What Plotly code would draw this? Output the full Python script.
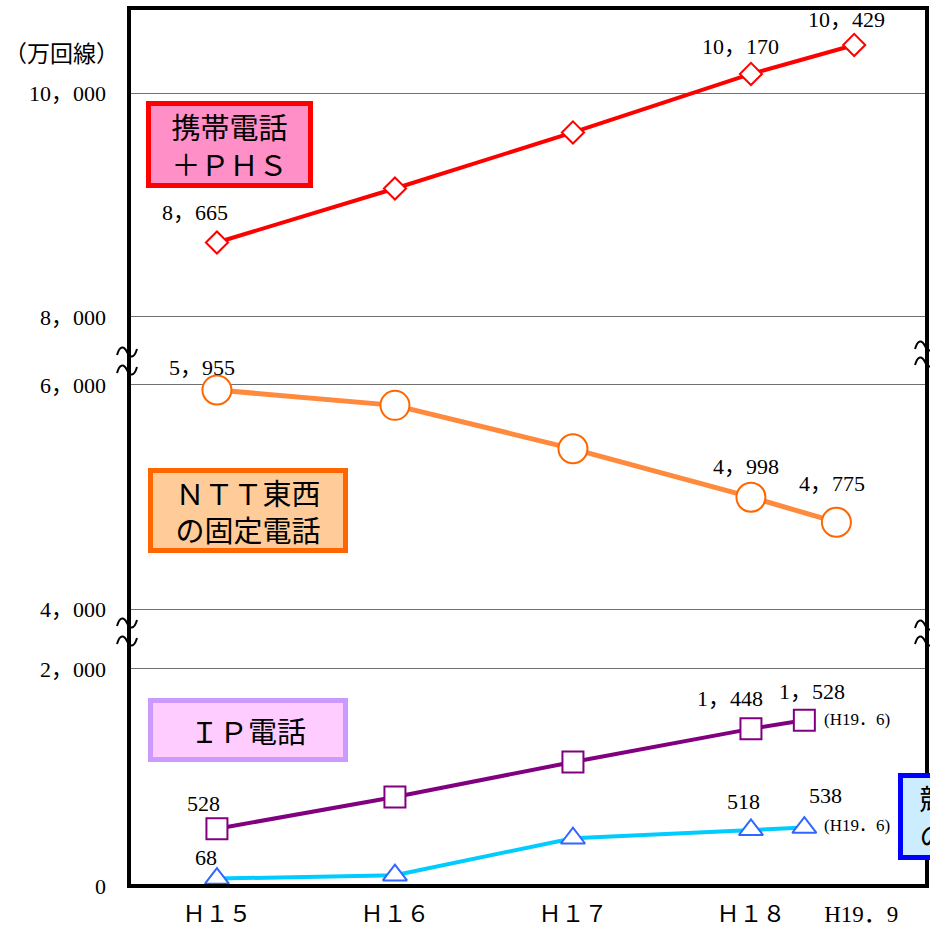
import plotly.graph_objects as go
from plotly.subplots import make_subplots

# ---------------- data ----------------
x_tick_vals = [0, 1, 2, 3, 3.62]
x_tick_text = ["Ｈ１５", "Ｈ１６", "Ｈ１７", "Ｈ１８", "H19．9"]

mobile_x = [0, 1, 2, 3, 3.58]          # H15 .. H18, H19.9
mobile_val = [8665, 9147, 9648, 10170, 10429]

ntt_x = [0, 1, 2, 3, 3.48]             # H15 .. H18, H19.9
ntt_val = [5955, 5818, 5430, 4998, 4775]

ip_x = [0, 1, 2, 3, 3.3]               # H15 .. H18, H19.6
ip_val = [528, 820, 1143, 1448, 1528]

direct_x = [0, 1, 2, 3, 3.3]           # H15 .. H18, H19.6
direct_val = [68, 100, 440, 518, 538]

y_top_ticks = [8000, 10000]
y_top_text = ["8，000", "10，000"]
y_mid_ticks = [4000, 6000]
y_mid_text = ["4，000", "6，000"]
y_bot_ticks = [0, 2000]
y_bot_text = ["0", "2，000"]

unit_label = "（万回線）"
box_mobile = "携帯電話<br>＋ＰＨＳ"
box_ntt = "ＮＴＴ東西<br>の固定電話"
box_ip = "ＩＰ電話"
box_direct = "競争事業者<br>の直収電話"
note_h196 = "(H19．6)"

# ---------------- figure ----------------
W, H = 930, 931
ML, MR, MT, MB = 129, 3, 8, 45
PW = W - ML - MR
PH = H - MT - MB

FONT = "Liberation Serif, Noto Sans CJK JP, serif"
JFONT = "Noto Sans CJK JP, sans-serif"

fig = make_subplots(rows=3, cols=1, shared_xaxes=True, vertical_spacing=0,
                    row_heights=[354, 273, 251])

fig.add_trace(go.Scatter(
    x=mobile_x, y=mobile_val, mode="lines+markers",
    line=dict(color="#FF0000", width=4),
    marker=dict(symbol="diamond", size=17, color="white",
                line=dict(color="#FF0000", width=2)),
    hoverinfo="skip", showlegend=False), row=1, col=1)

fig.add_trace(go.Scatter(
    x=ntt_x, y=ntt_val, mode="lines+markers",
    line=dict(color="#FF8A3D", width=5),
    marker=dict(symbol="circle", size=29, color="white",
                line=dict(color="#FF6600", width=2)),
    hoverinfo="skip", showlegend=False), row=2, col=1)

fig.add_trace(go.Scatter(
    x=ip_x, y=ip_val, mode="lines+markers",
    line=dict(color="#800080", width=4),
    marker=dict(symbol="square", size=21, color="white",
                line=dict(color="#800080", width=2)),
    hoverinfo="skip", showlegend=False), row=3, col=1)

fig.add_trace(go.Scatter(
    x=direct_x, y=direct_val, mode="lines+markers",
    line=dict(color="#00CCFF", width=4),
    marker=dict(symbol="triangle-up", size=21, color="white",
                line=dict(color="#3366FF", width=2)),
    hoverinfo="skip", showlegend=False), row=3, col=1)

def fmt(v):
    return f"{v:,}".replace(",", "，")

# data labels: (xs, ys, index, yref, dx, dy)
labels = [
    (mobile_x, mobile_val, 0, "y", -22, 30),
    (mobile_x, mobile_val, 3, "y", -10, 27),
    (mobile_x, mobile_val, 4, "y", -8, 25),
    (ntt_x, ntt_val, 0, "y2", -15, 23),
    (ntt_x, ntt_val, 3, "y2", -5, 31),
    (ntt_x, ntt_val, 4, "y2", -4, 39),
    (ip_x, ip_val, 0, "y3", -13, 25),
    (ip_x, ip_val, 3, "y3", -21, 30),
    (ip_x, ip_val, 4, "y3", 8, 29),
    (direct_x, direct_val, 0, "y3", -11, 21),
    (direct_x, direct_val, 3, "y3", -7, 28),
    (direct_x, direct_val, 4, "y3", 21, 32),
]
ann = []
for xs, ys, i, yref, dx, dy in labels:
    ann.append(dict(x=xs[i], y=ys[i], xref="x", yref=yref, text=fmt(ys[i]),
                    showarrow=False, xshift=dx, yshift=dy,
                    font=dict(family=FONT, size=22, color="black")))

for xs, ys, dy in [(ip_x, ip_val, 1), (direct_x, direct_val, 2)]:
    ann.append(dict(x=xs[-1], y=ys[-1], xref="x", yref="y3",
                    text=note_h196, showarrow=False, xshift=53, yshift=dy,
                    font=dict(family=FONT, size=17, color="black")))

def px(xp):
    return (xp - ML) / PW

def py(yp):
    return (H - MB - yp) / PH

# unit label
ann.append(dict(x=px(61), y=py(52), xref="paper", yref="paper", text=unit_label,
                showarrow=False, xanchor="center", yanchor="middle",
                font=dict(family=JFONT, size=23, color="black")))

# boxed captions
boxes = [
    (box_mobile, 146, 101, 167, 87, "#FF8FC7", "#FF0000", 29),
    (box_ntt, 148, 468, 200, 85, "#FFCC99", "#FF6600", 29),
    (box_ip, 148, 698, 200, 64, "#FFCCFF", "#CC99FF", 29),
    (box_direct, 898, 773, 183, 87, "#CCECFF", "#0000FF", 28),
]
for text, x0, y0, w, h, bg, bc, fs in boxes:
    ann.append(dict(x=px(x0), y=py(y0), xref="paper", yref="paper", text=text,
                    showarrow=False, xanchor="left", yanchor="top",
                    width=w - 10, height=h - 10, borderpad=0, borderwidth=5,
                    bgcolor=bg, bordercolor=bc, align="center", valign="middle",
                    font=dict(family=JFONT, size=fs, color="black")))

# frame and axis-break marks
shapes = [dict(type="rect", xref="paper", yref="paper", x0=0, x1=1, y0=0, y1=1,
               line=dict(color="black", width=4), layer="above")]

def brk(cx, cy):
    def P(a, b):
        return f"{px(a):.5f},{py(b):.5f}"
    path = (f"M {P(cx-10, cy+3)} C {P(cx-7, cy-7)} {P(cx-3, cy-6)} {P(cx, cy)} "
            f"C {P(cx+3, cy+6)} {P(cx+7, cy+7)} {P(cx+10, cy-3)}")
    return dict(type="path", xref="paper", yref="paper", path=path,
                line=dict(color="black", width=2), layer="above")

for cx, cy in [(127, 352), (127, 370), (127, 623), (127, 641),
               (925, 346), (925, 362), (925, 625), (925, 641)]:
    shapes.append(brk(cx, cy))

fig.update_layout(
    width=W, height=H,
    margin=dict(l=ML, r=MR, t=MT, b=MB),
    paper_bgcolor="white", plot_bgcolor="white",
    annotations=ann, shapes=shapes,
    font=dict(family=FONT, size=22, color="black"),
)

xr = [-0.494, 3.989]
for r in (1, 2, 3):
    fig.update_xaxes(range=xr, showgrid=False, zeroline=False, showline=False,
                     ticks="", row=r, col=1)
fig.update_xaxes(showticklabels=False, row=1, col=1)
fig.update_xaxes(showticklabels=False, row=2, col=1)
fig.update_xaxes(showticklabels=True, tickvals=x_tick_vals, ticktext=x_tick_text,
                 ticklabelstandoff=12, tickfont=dict(family=FONT, size=23),
                 row=3, col=1)

yr = {1: [7598, 10759], 2: [3768, 6205], 3: [0, 2313]}
yt = {1: (y_top_ticks, y_top_text), 2: (y_mid_ticks, y_mid_text), 3: (y_bot_ticks, y_bot_text)}
for r in (1, 2, 3):
    fig.update_yaxes(range=yr[r], tickvals=yt[r][0], ticktext=yt[r][1],
                     showgrid=True, gridcolor="#707070", gridwidth=1,
                     zeroline=False, showline=False, ticks="",
                     ticklabelstandoff=22, tickfont=dict(family=FONT, size=22),
                     row=r, col=1)

fig.write_html("out.html", config={"displayModeBar": False, "staticPlot": True},
               post_script="document.body.style.margin='0';document.body.style.overflow='hidden';")
